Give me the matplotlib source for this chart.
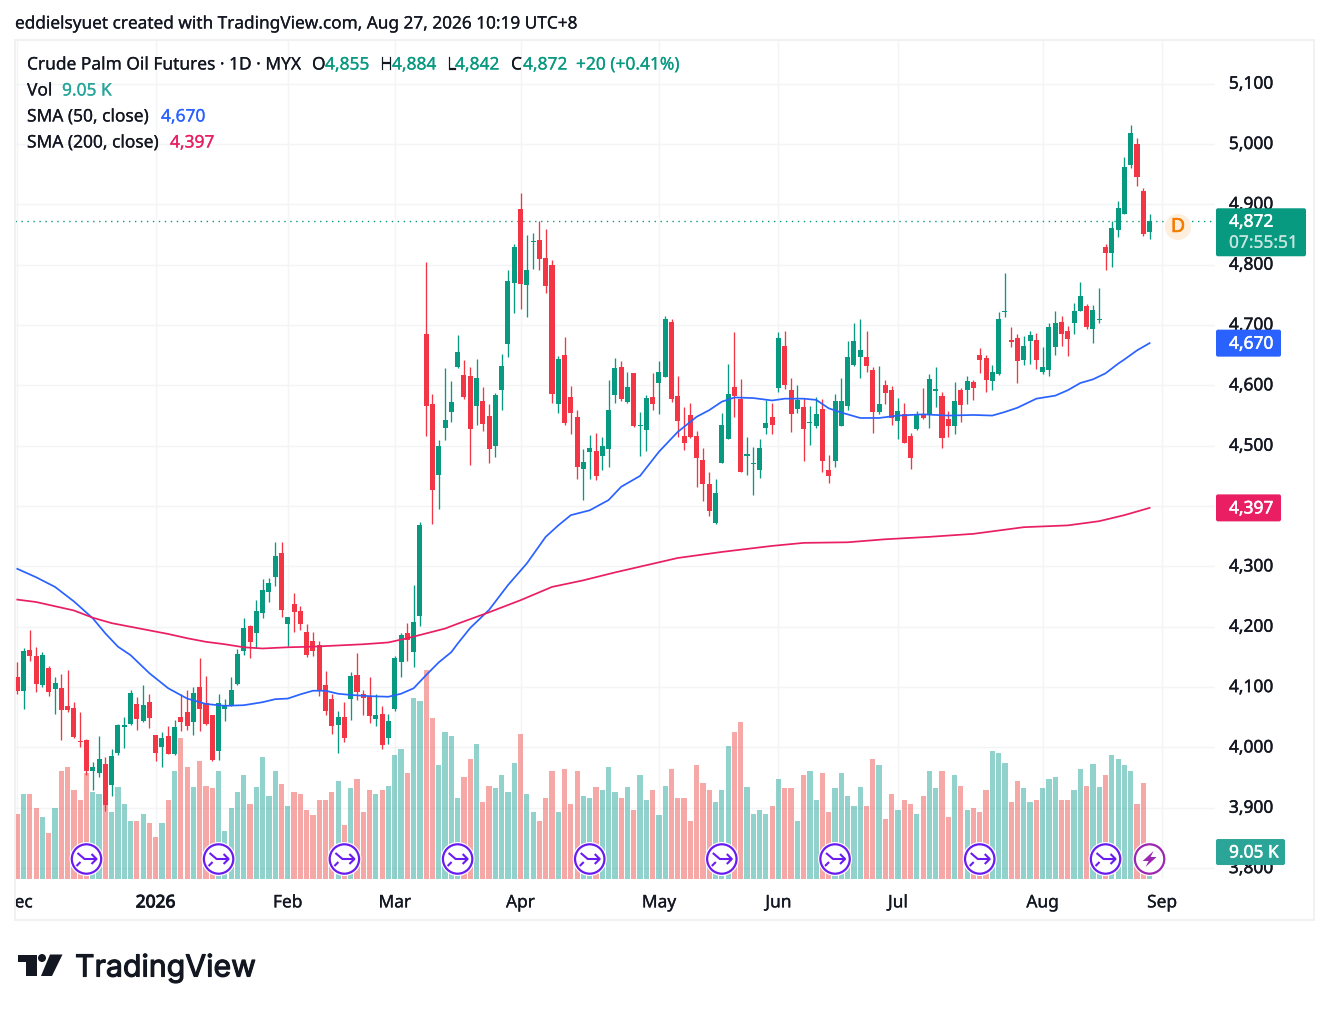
import matplotlib
matplotlib.use("Agg")
import matplotlib.pyplot as plt
import matplotlib.patheffects as pe
from matplotlib.lines import Line2D
from matplotlib.patches import Circle, FancyBboxPatch, Polygon, Rectangle
from matplotlib.transforms import IdentityTransform

# ======== data ============================
opens = [4116, 4093, 4161, 4151, 4103, 4131, 4097, 4098, 4068, 4065, 4010, 4012, 3961, 3957, 3972, 3937, 3990, 4034, 4039, 4072,
         4043, 4075, 4020, 4000, 4019, 3989, 4050, 4058, 4042, 4100, 4073, 4053, 3994, 4063, 4068, 4105, 4160, 4201, 4189, 4223,
         4257, 4282, 4322, 4204, 4237, 4226, 4191, 4176, 4169, 4103, 4080, 4037, 4050, 4080, 4120, 4088, 4085, 4047, 4055, 4015,
         4063, 4141, 4189, 4158, 4218, 4685, 4569, 4451, 4529, 4556, 4630, 4617, 4615, 4566, 4574, 4549, 4499, 4592, 4668, 4770,
         4892, 4766, 4837, 4841, 4811, 4799, 4569, 4650, 4581, 4547, 4461, 4489, 4491, 4483, 4494, 4584, 4630, 4572, 4620, 4532,
         4526, 4581, 4604, 4614, 4705, 4582, 4516, 4551, 4516, 4476, 4436, 4372, 4471, 4511, 4597, 4577, 4483, 4470, 4460, 4529,
         4547, 4595, 4665, 4592, 4561, 4564, 4537, 4532, 4561, 4460, 4474, 4532, 4566, 4634, 4647, 4647, 4625, 4556, 4600, 4592,
         4541, 4552, 4516, 4528, 4552, 4551, 4590, 4582, 4544, 4532, 4592, 4592, 4605, 4650, 4645, 4607, 4619, 4721, 4675, 4678,
         4642, 4673, 4675, 4622, 4625, 4663, 4705, 4690, 4703, 4723, 4731, 4693, 4708, 4829, 4819, 4857, 4884, 4965, 5000, 4922,
         4855]
highs = [4141, 4164, 4194, 4166, 4158, 4135, 4116, 4121, 4128, 4075, 4058, 4014, 3976, 4019, 3984, 3997, 4039, 4050, 4095, 4083,
         4103, 4088, 4020, 4025, 4035, 4045, 4088, 4095, 4100, 4148, 4118, 4053, 4088, 4080, 4116, 4163, 4214, 4203, 4244, 4279,
         4281, 4340, 4340, 4216, 4256, 4234, 4204, 4191, 4176, 4126, 4088, 4060, 4075, 4125, 4156, 4095, 4116, 4088, 4068, 4055,
         4151, 4189, 4206, 4269, 4373, 4804, 4586, 4509, 4629, 4607, 4683, 4642, 4630, 4644, 4597, 4569, 4587, 4652, 4791, 4834,
         4919, 4849, 4852, 4872, 4859, 4808, 4649, 4680, 4599, 4559, 4494, 4518, 4521, 4514, 4609, 4645, 4640, 4622, 4620, 4556,
         4584, 4620, 4640, 4715, 4710, 4615, 4564, 4571, 4524, 4496, 4456, 4445, 4554, 4635, 4688, 4610, 4514, 4498, 4511, 4576,
         4571, 4688, 4690, 4612, 4600, 4579, 4566, 4581, 4577, 4484, 4586, 4612, 4673, 4703, 4710, 4690, 4630, 4632, 4609, 4599,
         4579, 4571, 4521, 4557, 4595, 4619, 4630, 4589, 4557, 4605, 4595, 4615, 4609, 4662, 4650, 4634, 4721, 4786, 4697, 4685,
         4682, 4690, 4687, 4663, 4703, 4723, 4715, 4698, 4736, 4771, 4735, 4734, 4761, 4834, 4872, 4905, 4978, 5031, 5010, 4927,
         4884]
lows = [4088, 4063, 4143, 4092, 4100, 4085, 4055, 4012, 4058, 4015, 4000, 3954, 3929, 3951, 3894, 3919, 3987, 3999, 4038, 4029,
        4042, 4032, 3977, 3967, 3989, 3988, 4027, 4029, 4020, 4027, 4037, 3977, 3979, 4043, 4068, 4104, 4153, 4148, 4164, 4214,
        4241, 4267, 4216, 4168, 4191, 4194, 4150, 4151, 4085, 4053, 4022, 3990, 4009, 4045, 4078, 4053, 4040, 4035, 3997, 4005,
        4060, 4116, 4143, 4133, 4201, 4516, 4370, 4395, 4509, 4539, 4629, 4577, 4468, 4534, 4524, 4471, 4481, 4559, 4647, 4720,
        4726, 4713, 4793, 4791, 4753, 4571, 4554, 4534, 4519, 4445, 4410, 4445, 4443, 4460, 4465, 4571, 4574, 4571, 4531, 4483,
        4491, 4559, 4552, 4614, 4572, 4514, 4493, 4513, 4431, 4408, 4383, 4370, 4471, 4511, 4548, 4456, 4451, 4418, 4446, 4519,
        4519, 4589, 4594, 4523, 4554, 4474, 4501, 4529, 4456, 4438, 4465, 4532, 4559, 4632, 4612, 4622, 4521, 4552, 4569, 4534,
        4511, 4504, 4461, 4526, 4544, 4529, 4564, 4496, 4514, 4519, 4539, 4569, 4576, 4620, 4589, 4592, 4617, 4713, 4663, 4604,
        4634, 4635, 4627, 4619, 4615, 4650, 4665, 4649, 4685, 4723, 4693, 4670, 4703, 4791, 4796, 4846, 4884, 4960, 4930, 4847,
        4842]
closes = [4093, 4160, 4151, 4105, 4153, 4092, 4107, 4062, 4062, 4017, 4009, 3961, 3967, 3981, 3904, 3986, 4037, 4037, 4090, 4047,
          4070, 4048, 3990, 4015, 3989, 4034, 4042, 4035, 4090, 4063, 4039, 3979, 4073, 4068, 4095, 4155, 4198, 4175, 4226, 4261,
          4272, 4317, 4227, 4216, 4224, 4204, 4153, 4160, 4093, 4060, 4035, 4050, 4015, 4118, 4092, 4082, 4052, 4053, 4004, 4043,
          4148, 4186, 4178, 4208, 4368, 4566, 4426, 4499, 4542, 4572, 4655, 4581, 4528, 4612, 4536, 4494, 4584, 4632, 4773, 4829,
          4768, 4791, 4839, 4809, 4765, 4586, 4644, 4537, 4554, 4465, 4473, 4496, 4450, 4499, 4559, 4629, 4577, 4597, 4532, 4534,
          4579, 4569, 4622, 4710, 4577, 4541, 4504, 4514, 4479, 4436, 4392, 4421, 4534, 4586, 4582, 4456, 4486, 4472, 4496, 4537,
          4534, 4678, 4600, 4552, 4576, 4528, 4539, 4552, 4474, 4450, 4574, 4574, 4647, 4673, 4658, 4632, 4556, 4569, 4587, 4546,
          4557, 4504, 4479, 4552, 4546, 4610, 4594, 4513, 4532, 4574, 4567, 4607, 4595, 4642, 4609, 4622, 4710, 4722, 4672, 4640,
          4665, 4683, 4642, 4630, 4697, 4703, 4685, 4677, 4723, 4748, 4697, 4725, 4710, 4819, 4861, 4894, 4962, 5018, 4945, 4851,
          4872]
volumes = [22.6, 29.3, 29.6, 24.4, 21.3, 16.0, 24.7, 37.6, 39.0, 30.7, 27.2, 36.6, 30.0, 29.3, 26.0, 23.0, 32.0, 25.8, 19.9, 20.2,
           22.6, 19.2, 14.3, 19.2, 27.5, 37.6, 48.8, 38.7, 32.0, 41.0, 32.4, 31.7, 37.6, 16.7, 24.7, 30.0, 35.9, 25.8, 32.0, 42.2,
           28.6, 37.6, 32.8, 25.1, 30.3, 29.6, 24.0, 22.0, 27.2, 27.5, 30.0, 34.1, 18.5, 31.7, 34.5, 23.3, 31.0, 29.6, 30.7, 32.4,
           42.9, 45.0, 36.6, 63.0, 61.7, 72.8, 56.0, 39.4, 50.9, 49.5, 28.2, 35.2, 41.8, 47.0, 26.5, 32.4, 31.7, 35.9, 30.0, 40.4,
           50.2, 29.6, 23.0, 20.2, 27.9, 37.3, 23.3, 38.3, 26.1, 37.3, 28.9, 28.2, 32.0, 30.7, 39.0, 30.3, 28.2, 32.0, 23.7, 35.9,
           27.2, 30.7, 22.0, 32.4, 38.0, 28.2, 27.9, 19.9, 39.7, 33.4, 31.0, 26.5, 30.7, 46.0, 51.2, 54.7, 32.0, 22.6, 23.7, 22.6,
           25.1, 34.5, 31.7, 31.7, 19.9, 36.2, 37.3, 27.2, 36.6, 23.0, 31.4, 36.6, 28.6, 25.1, 32.0, 25.4, 41.8, 39.7, 20.6, 29.3,
           24.0, 27.2, 26.1, 22.6, 28.6, 37.3, 31.7, 37.6, 21.3, 36.2, 32.4, 23.7, 24.4, 23.0, 30.7, 44.3, 43.9, 40.4, 26.8, 34.1,
           31.4, 26.5, 27.5, 31.7, 34.8, 35.5, 27.2, 27.5, 31.0, 38.3, 32.4, 40.0, 32.0, 35.9, 42.9, 41.8, 39.4, 37.3, 26.1, 33.4,
           9.05]

sma50_bar = [0, 3, 6, 9, 12, 14, 16, 18, 21, 24, 27, 30, 33, 36, 39, 41, 43, 45, 47, 49, 51, 53, 56, 59, 61, 63, 65, 67, 69, 70,
             72, 75, 78, 81, 84, 86, 88, 91, 94, 96, 99, 102, 105, 108, 110, 112, 114, 117, 120, 122, 125, 127, 129, 131, 134,
             137, 140, 144, 148, 152, 155, 157, 159, 161, 162, 165, 167, 169, 171, 173, 175, 176, 178, 180]
sma50_val = [4296, 4282, 4266, 4242, 4214, 4189, 4167, 4153, 4123, 4098, 4081, 4072, 4069, 4070, 4075, 4080, 4081, 4088, 4094, 4094,
             4089, 4087, 4085, 4084, 4089, 4098, 4120, 4141, 4158, 4172, 4198, 4228, 4269, 4305, 4349, 4368, 4385, 4393, 4410,
             4432, 4450, 4490, 4523, 4548, 4559, 4573, 4580, 4579, 4575, 4578, 4578, 4576, 4562, 4555, 4546, 4546, 4550, 4552,
             4550, 4551, 4550, 4556, 4563, 4573, 4578, 4583, 4592, 4604, 4610, 4620, 4636, 4643, 4658, 4670]
sma200_bar = [0, 3, 6, 9, 12, 15, 18, 21, 24, 27, 30, 33, 36, 39, 43, 47, 51, 55, 59, 62, 65, 68, 70, 75, 80, 85, 90, 95, 100, 105,
              112, 120, 125, 132, 138, 145, 152, 160, 167, 172, 176, 180]
sma200_val = [4245, 4241, 4234, 4227, 4215, 4206, 4200, 4194, 4188, 4181, 4175, 4171, 4166, 4164, 4166, 4167, 4169, 4171, 4174, 4181,
              4189, 4197, 4205, 4224, 4244, 4266, 4277, 4290, 4302, 4314, 4324, 4334, 4339, 4340, 4345, 4349, 4354, 4365, 4368,
              4375, 4385, 4397]

price_ticks = [3800, 3900, 4000, 4100, 4200, 4300, 4400, 4500, 4600, 4700, 4800, 4900, 5000, 5100]
month_bars = [0, 22, 43, 60, 80, 102, 121, 140, 163, 182]
month_names = ["Dec", "2026", "Feb", "Mar", "Apr", "May", "Jun", "Jul", "Aug", "Sep"]
roll_bars = [11, 32, 52, 70, 91, 112, 130, 153, 173]
flash_bar = 180

last_price = 4872
last_sma50 = 4670
last_sma200 = 4397
last_volume = 9.05

GREEN = "#089981"
RED = "#f23645"
BLUE = "#2962ff"
PINK = "#e91e63"
TEXT = "#131722"
GRID = "#f3f4f6"
FONT = "Noto Sans"

W, H = 1329, 1012
P_MIN, P_MAX = 3782.8, 5172.4
V_MAX = 838.5 / 2.87
plt.rcParams["font.family"] = [FONT, "DejaVu Sans"]


def ax_rect(x0, y0, x1, y1):
    return [x0 / W, 1 - y1 / H, (x1 - x0) / W, (y1 - y0) / H]


def put(x, y, s, color=TEXT, size=12.5, ha="left", stroke=0.15, **kw):
    # thin outline in the text's own colour, the plain font comes out too light
    t = fig.text(x / W, 1 - (y + 1.5) / H, s, color=color, fontsize=size, ha=ha, va="center", **kw)
    t.set_path_effects([pe.withStroke(linewidth=stroke, foreground=color)])
    return t


def badge(x0, x1, yc, h, color):
    box = FancyBboxPatch((x0 + 2, H - yc - h / 2 + 2), x1 - x0 - 4, h - 4, boxstyle="round,pad=2,rounding_size=2",
                         facecolor=color, edgecolor="none", transform=IdentityTransform(), zorder=5)
    fig.add_artist(box)


def price_to_y(p):
    return H - ax.transData.transform((0, p))[1]


def line_px(xs, ys, color, lw=1.5, z=7):
    fig.add_artist(Line2D(xs, [H - v for v in ys], color=color, lw=lw, transform=IdentityTransform(), zorder=z,
                          solid_capstyle="butt"))


def ring_px(cx, cy, r, color, lw=0.0, face="white", z=6):
    fig.add_artist(Circle((cx, H - cy), r, facecolor=face, edgecolor=color, lw=lw, transform=IdentityTransform(), zorder=z))


fig = plt.figure(figsize=(W / 100, H / 100), dpi=100)

# frame round the whole chart
fig.add_artist(Rectangle((15 / W, 1 - 921 / H), 1299 / W, 880 / H, fill=False, edgecolor="#f0f1f3", lw=1.4,
                         transform=fig.transFigure))

ax_vol = fig.add_axes(ax_rect(15, 41, 1215, 879.5))
ax = fig.add_axes(ax_rect(15, 41, 1215, 879.5), sharex=ax_vol)
ax_time = fig.add_axes(ax_rect(15, 880, 1215, 921), sharex=ax_vol)
ax.patch.set_visible(False)
ax_time.patch.set_visible(False)
for a in (ax_vol, ax, ax_time):
    for s in a.spines.values():
        s.set_visible(False)

bars = range(len(closes))
ax_vol.set_xlim(-0.366, 190.4)
ax.set_ylim(P_MIN, P_MAX)
ax_vol.set_ylim(0, V_MAX)

# grid sits on the lowest axes
for b in month_bars:
    ax_vol.axvline(b, color=GRID, lw=1.0, zorder=0)
for p in price_ticks:
    ax_vol.axhline((p - P_MIN) / (P_MAX - P_MIN) * V_MAX, color=GRID, lw=1.0, zorder=0)

# volume
vol_colors = ["#26a69a" if c >= o else "#ef5350" for o, c in zip(opens, closes)]
ax_vol.bar(bars, volumes, width=0.83, color=vol_colors, alpha=0.5, linewidth=0, zorder=2)
ax_vol.set_xticks([])
ax_vol.set_yticks([])

# candles
colors = [GREEN if c >= o else RED for o, c in zip(opens, closes)]
ax.vlines(bars, lows, highs, colors=colors, lw=0.95, zorder=2)
ax.bar(bars, [max(abs(c - o), 1.7) for o, c in zip(opens, closes)], bottom=[min(o, c) for o, c in zip(opens, closes)],
       width=0.8, color=colors, linewidth=0, zorder=3)

# moving averages
ax.plot(sma50_bar, sma50_val, color=BLUE, lw=1.25, zorder=4, solid_joinstyle="round")
ax.plot(sma200_bar, sma200_val, color=PINK, lw=1.25, zorder=4, solid_joinstyle="round")
ax.axhline(last_price, color=GREEN, lw=1.0, ls=(0, (1, 3.3)), zorder=1)

# 4,400 sits fully behind the 4,397 badge so it gets no label
ax.yaxis.tick_right()
ax.set_yticks(price_ticks)
ax.set_yticklabels(["" if p == 4400 else f"{p:,}" for p in price_ticks], color=TEXT, fontsize=12.5, ha="left", va="center")
ax.tick_params(axis="y", length=0, pad=10)
ax.tick_params(axis="x", length=0, labelbottom=False)
for t in ax.get_yticklabels():
    t.set_path_effects([pe.withStroke(linewidth=0.3, foreground=TEXT)])

# time axis, "Dec" is cut off at the left edge like in the original
ax_time.set_ylim(0, 1)
ax_time.set_xticks([])
ax_time.set_yticks([])
for b, name in zip(month_bars, month_names):
    t = ax_time.text(b, 0.43, name, color=TEXT, fontsize=12.5, ha="center", va="center", clip_on=True)
    t.set_path_effects([pe.withStroke(linewidth=0.7 if name == "2026" else 0.2, foreground=TEXT)])

# price badges on the right
y_last = price_to_y(last_price)
badge(1216, 1306, y_last + 11, 48, GREEN)
put(1229, y_last - 1, f"{last_price:,}", "white", 12.5, stroke=0.35, zorder=8)
put(1229, y_last + 20, "07:55:51", "#c4e6df", 12.5, zorder=8)

y_sma = price_to_y(last_sma50)
badge(1216, 1281, y_sma, 27, BLUE)
put(1229, y_sma - 1, f"{last_sma50:,}", "white", 12.5, stroke=0.35, zorder=8)

y_sma = price_to_y(last_sma200)
badge(1216, 1281, y_sma, 27, PINK)
put(1229, y_sma - 1, f"{last_sma200:,}", "white", 12.5, stroke=0.35, zorder=8)

y_vol = 879 - last_volume * 2.87
badge(1216, 1285, y_vol, 26, "#2ba597")
put(1229, y_vol - 1, f"{last_volume:.2f} K", "white", 12.5, stroke=0.35, zorder=8)

# contract roll markers on the volume pane
ROLL = "#6a1cf0"
for b in roll_bars:
    cx = ax.transData.transform((b, 4000))[0]
    cy = 860
    ring_px(cx, cy, 17, "none")
    ring_px(cx, cy, 14.7, ROLL, lw=1.6)
    line_px([cx - 9, cx - 2, cx + 10], [cy - 6, cy, cy], ROLL)
    line_px([cx + 5, cx + 10, cx + 5], [cy - 5, cy, cy + 5], ROLL)
    line_px([cx - 10, cx - 6], [cy + 7, cy + 3], ROLL)

cx = ax.transData.transform((flash_bar, 4000))[0]
ring_px(cx, 860, 17, "none")
ring_px(cx, 860, 14.7, "#9c27b0", lw=1.6)
bolt = [(4, -8), (-7, 2), (-1, 2), (-4, 8), (7, -2), (1, -2)]
fig.add_artist(Polygon([(cx + a, H - 860 - b) for a, b in bolt], facecolor="#9c27b0", edgecolor="none",
                       transform=IdentityTransform(), zorder=7))

# daily resolution marker
ring_px(1178, 228, 13, "none", face="#fdeedd")
put(1178, 226.5, "D", "#f57c00", 14, ha="center", stroke=0.4, zorder=8)

# top line and legend
put(15, 23, "eddielsyuet created with TradingView.com, Aug 27, 2026 10:19 UTC+8", size=12.4)
put(27, 64, "Crude Palm Oil Futures · 1D · MYX", size=12.5)
for x, s in [(312, "O"), (380, "H"), (447, "L"), (511, "C")]:
    put(x, 64, s, size=12.5)
for x, s in [(325, "4,855"), (392, "4,884"), (455, "4,842"), (523, "4,872"), (576, "+20 (+0.41%)")]:
    put(x, 64, s, GREEN, size=12.5)
put(27, 90, "Vol", size=12.5)
put(62, 90, "9.05 K", "#26a69a", size=12.5)
put(27, 116, "SMA (50, close)", size=12.5)
put(161, 116, "4,670", BLUE, size=12.5)
put(27, 142, "SMA (200, close)", size=12.5)
put(170, 142, "4,397", PINK, size=12.5)

# TradingView logo
LOGO = "#131722"
for pts in ([(18, 955.5), (37, 955.5), (37, 977), (26, 977), (26, 963), (18, 963)],
            [(50, 955.5), (62.5, 955.5), (52, 977), (41, 977)]):
    fig.add_artist(Polygon([(a, H - b) for a, b in pts], facecolor=LOGO, edgecolor="none", transform=IdentityTransform()))
ring_px(42, 959, 4, "none", face=LOGO, z=2)
t = fig.text(75 / W, 1 - 977.5 / H, "TradingView", color=LOGO, fontsize=21.8, ha="left", va="baseline", family="Inter")
t.set_path_effects([pe.withStroke(linewidth=0.8, foreground=LOGO)])

fig.savefig("out.png", dpi=100, facecolor="white")
